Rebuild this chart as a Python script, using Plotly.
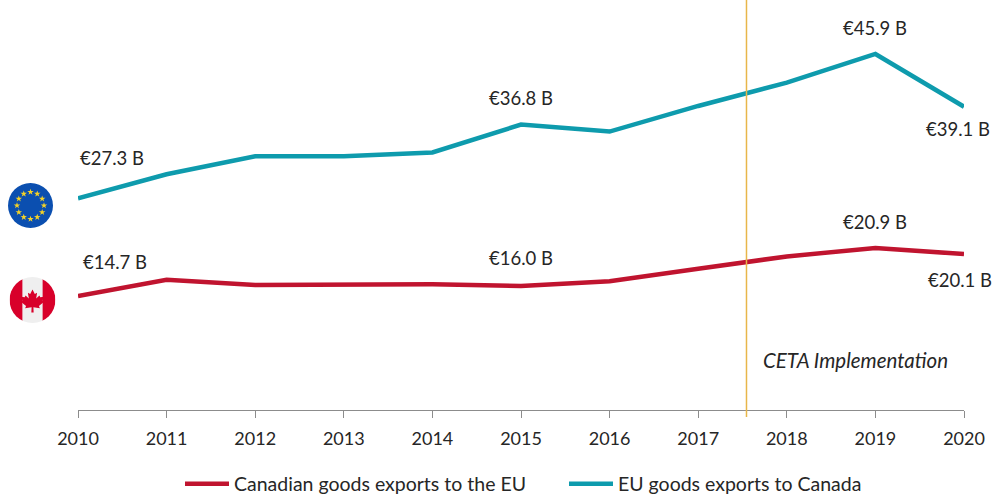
import base64
import math
import plotly.graph_objects as go

years = [2010, 2011, 2012, 2013, 2014, 2015, 2016, 2017, 2018, 2019, 2020]
canada_to_eu = [14.7, 16.8, 16.1, 16.1, 16.2, 16.0, 16.6, 18.2, 19.8, 20.9, 20.1]
eu_to_canada = [27.3, 30.4, 32.7, 32.7, 33.2, 36.8, 35.9, 39.2, 42.2, 45.9, 39.1]
ceta_x = 2017.545

FONT = "Lato"
TXT = "#262626"
RED = "#C0142F"
TEAL = "#0E9BAD"

def uri(svg):
    return "data:image/svg+xml;base64," + base64.b64encode(svg.encode()).decode()

stars = ""
for i in range(12):
    a = math.radians(i * 30)
    cx, cy = 50 + 30 * math.sin(a), 50 - 30 * math.cos(a)
    pts = []
    for k in range(10):
        r = 7.5 if k % 2 == 0 else 3.0
        b = math.radians(k * 36)
        pts.append(f"{cx + r * math.sin(b):.2f},{cy - r * math.cos(b):.2f}")
    stars += f'<polygon points="{" ".join(pts)}" fill="#F5D327"/>'
eu_svg = f'<svg xmlns="http://www.w3.org/2000/svg" viewBox="0 0 100 100"><circle cx="50" cy="50" r="50" fill="#0B4FB0"/>{stars}</svg>'

leaf = ("M50 27 L55 37 L60 34 L58 47 L65 40 L67 44 L75 43 L72 51 L76 53 L64 63 L66 68 L52 66 L52.5 77 L47.5 77 "
        "L48 66 L34 68 L36 63 L24 53 L28 51 L25 43 L33 44 L35 40 L42 47 L40 34 L45 37 Z")
ca_svg = ('<svg xmlns="http://www.w3.org/2000/svg" viewBox="0 0 100 100"><defs><clipPath id="c"><circle cx="50" cy="50" r="50"/></clipPath></defs>'
          '<g clip-path="url(#c)"><rect width="100" height="100" fill="#EFEFEF"/><rect width="28" height="100" fill="#D8002A"/>'
          f'<rect x="72" width="28" height="100" fill="#D8002A"/><path d="{leaf}" fill="#D8002A"/></g></svg>')

W, H = 993, 501
L, R, T, B = 78, 964, 0, 410

fig = go.Figure()
fig.add_trace(go.Scatter(x=years, y=canada_to_eu, mode="lines", name="Canadian goods exports to the EU",
                         line=dict(color=RED, width=4.5), cliponaxis=False))
fig.add_trace(go.Scatter(x=years, y=eu_to_canada, mode="lines", name="EU goods exports to Canada",
                         line=dict(color=TEAL, width=4.5), cliponaxis=False))

def label(series, year, dx, dy):
    v = series[years.index(year)]
    fig.add_annotation(x=year, y=v, text=f"€{v:.1f} B", showarrow=False, xshift=dx, yshift=dy,
                       font=dict(family=FONT, size=18.5, color=TXT))

label(eu_to_canada, 2010, 34, 40)
label(eu_to_canada, 2015, 0, 27)
label(eu_to_canada, 2019, 0, 26)
label(eu_to_canada, 2020, -6, -22)
label(canada_to_eu, 2010, 37, 34)
label(canada_to_eu, 2015, 0, 28)
label(canada_to_eu, 2019, 0, 26)
label(canada_to_eu, 2020, -4, -26)

fig.add_annotation(xref="paper", yref="paper", x=(855 - L) / (R - L), y=(B - 360) / (B - T), text="<i>CETA Implementation</i>",
                   xanchor="center", yanchor="middle", showarrow=False, font=dict(family=FONT, size=20.5, color=TXT))

fig.add_shape(type="line", xref="x", yref="paper", x0=ceta_x, x1=ceta_x, y0=-7 / (B - T), y1=1,
              line=dict(color="#E8B64A", width=1.5))

for svg, cx, cy, d in [(eu_svg, 30.5, 205.5, 45), (ca_svg, 32.5, 300, 46)]:
    fig.add_layout_image(source=uri(svg), xref="paper", yref="paper", x=(cx - L) / (R - L), y=(B - cy) / (B - T),
                         sizex=d / (R - L), sizey=d / (B - T), xanchor="center", yanchor="middle", layer="above")

fig.update_layout(
    width=W, height=H, autosize=False,
    margin=dict(l=L, r=W - R, t=T, b=H - B, pad=0),
    paper_bgcolor="white", plot_bgcolor="white",
    font=dict(family=FONT, size=18, color=TXT),
    xaxis=dict(range=[2010, 2020], tickmode="array", tickvals=years, ticktext=[str(y) for y in years],
               showgrid=False, zeroline=False, showline=True, linecolor="#8C8C8C", linewidth=1,
               ticks="outside", ticklen=7, tickcolor="#8C8C8C", tickwidth=1, ticklabelstandoff=5,
               automargin=False, tickfont=dict(family=FONT, size=18, color=TXT)),
    yaxis=dict(range=[0, 52.86], visible=False, showgrid=False, zeroline=False),
    legend=dict(orientation="h", xref="container", yref="container", x=180 / W, xanchor="left", y=(H - 484) / H, yanchor="middle",
                itemwidth=44, entrywidth=325, entrywidthmode="pixels",
                font=dict(family=FONT, size=19.5, color=TXT), bgcolor="rgba(0,0,0,0)", tracegroupgap=0),
    showlegend=True,
)
fig.write_html("out.html", config=dict(displayModeBar=False),
               post_script="document.body.style.margin='0';document.documentElement.style.overflow='hidden';")
